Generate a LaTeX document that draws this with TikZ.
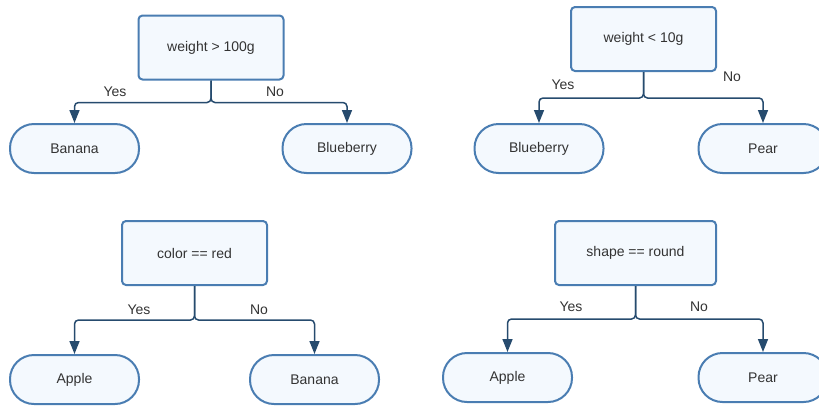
\documentclass[tikz,border=0pt]{standalone}
\usepackage{fontspec}
\setmainfont{Liberation Sans}
\usetikzlibrary{arrows.meta}
\definecolor{edgeblue}{HTML}{4A7DB2}
\definecolor{fillblue}{HTML}{F4F9FE}
\definecolor{linkblue}{HTML}{264B6E}
\definecolor{inkgray}{HTML}{333333}
\tikzset{
  every node/.style={font=\fontsize{14}{16}\selectfont, text=inkgray},
  test/.style={draw=edgeblue, fill=fillblue, line width=2pt, rounded corners=4pt,
    minimum width=145pt, minimum height=64pt, inner sep=0pt},
  leaf/.style={draw=edgeblue, fill=fillblue, line width=2pt, rounded corners=24pt,
    minimum width=129pt, minimum height=49pt, inner sep=0pt},
  link/.style={draw=linkblue, line width=1.5pt, rounded corners=4pt,
    -{Triangle[length=13pt,width=10pt]}},
  tag/.style={inner sep=0pt}
}
\begin{document}
\begin{tikzpicture}[x=1pt,y=-1pt]
\useasboundingbox (0,0) rectangle (819,405);

% weight > 100g
\node[test] (t1) at (211,47.5) {weight > 100g};
\node[leaf] (t1y) at (74.5,148.5) {Banana};
\node[leaf] (t1n) at (347,148.5) {Blueberry};
\draw[link] (t1.south) -- ++(0,22) -| (t1y.north);
\draw[link] (t1.south) -- ++(0,22) -| (t1n.north);
\node[tag] (y1) at (115,92) {Yes};
\node[tag] (n1) at (275,92) {No};

% weight < 10g
\node[test] (t2) at (643.5,39) {weight < 10g};
\node[leaf] (t2y) at (539,148.5) {Blueberry};
\node[leaf] (t2n) at (763,148.5) {Pear};
\draw[link] (t2.south) -- ++(0,26) -| (t2y.north);
\draw[link] (t2.south) -- ++(0,26) -| (t2n.north);
\node[tag] (y2) at (563,85) {Yes};
\node[tag] (n2) at (732,77) {No};

% color == red
\node[test] (t3) at (194.5,253) {color == red};
\node[leaf] (t3y) at (74.5,379.5) {Apple};
\node[leaf] (t3n) at (314.5,379.5) {Banana};
\draw[link] (t3.south) -- ++(0,34) -| (t3y.north);
\draw[link] (t3.south) -- ++(0,34) -| (t3n.north);
\node[tag] (y3) at (139,310) {Yes};
\node[tag] (n3) at (259,310) {No};

% shape == round (wider box)
\node[test, minimum width=161pt] (t4) at (635.5,253) {shape == round};
\node[leaf] (t4y) at (507.5,377.5) {Apple};
\node[leaf] (t4n) at (763,377.5) {Pear};
\draw[link] (t4.south) -- ++(0,33) -| (t4y.north);
\draw[link] (t4.south) -- ++(0,33) -| (t4n.north);
\node[tag] (y4) at (571,307) {Yes};
\node[tag] (n4) at (699,307) {No};
\end{tikzpicture}
\end{document}
